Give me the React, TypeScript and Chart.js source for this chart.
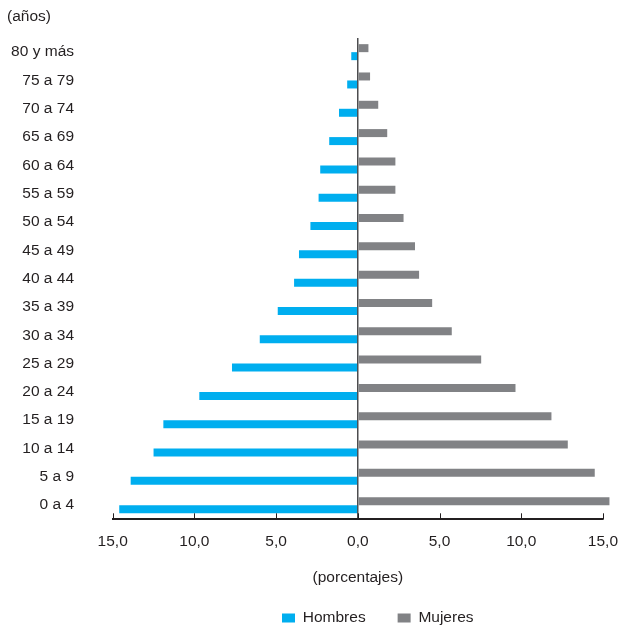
import React, { useEffect, useRef } from 'react';
import { Chart, registerables } from 'chart.js';

Chart.register(...registerables);

// Age groups, top to bottom
const ageGroups = [
  '80 y más', '75 a 79', '70 a 74', '65 a 69', '60 a 64', '55 a 59',
  '50 a 54', '45 a 49', '40 a 44', '35 a 39', '30 a 34', '25 a 29',
  '20 a 24', '15 a 19', '10 a 14', '5 a 9', '0 a 4',
];

// Percent of population by sex
const hombres = [0.4, 0.65, 1.15, 1.75, 2.3, 2.4, 2.9, 3.6, 3.9, 4.9, 6.0, 7.7, 9.7, 11.9, 12.5, 13.9, 14.6];
const mujeres = [0.65, 0.75, 1.25, 1.8, 2.3, 2.3, 2.8, 3.5, 3.75, 4.55, 5.75, 7.55, 9.65, 11.85, 12.85, 14.5, 15.4];

const xMin = -15;
const xMax = 15;
const xStep = 5;

const FONT = "'Liberation Sans', Arial, Helvetica, sans-serif";
const TEXT = '#231f20';
const BLUE = '#00aeef';
const GREY = '#818285';
const FS = 15.5;

export default function App() {
  const ref = useRef<HTMLCanvasElement>(null);

  useEffect(() => {
    if (!ref.current) return;

    const insideTicks = {
      id: 'insideTicks',
      afterDatasetsDraw(chart: any) {
        const xs = chart.scales.x;
        const ctx = chart.ctx;
        const b = chart.chartArea.bottom;
        ctx.save();
        ctx.strokeStyle = TEXT;
        ctx.lineWidth = 1;
        xs.ticks.forEach((_t: any, i: number) => {
          const px = Math.round(xs.getPixelForTick(i)) + 0.5;
          ctx.beginPath();
          ctx.moveTo(px, b - 6);
          ctx.lineTo(px, b);
          ctx.stroke();
        });
        ctx.restore();
      },
    };

    const legendPlacer = {
      id: 'legendPlacer',
      beforeDraw(chart: any) {
        const lg = chart.legend;
        if (!lg) return;
        const pad = lg.options.labels.padding;
        lg.left = 282 - pad;
        lg.right = chart.width;
        lg.top = 578.25;
        lg.bottom = chart.height;
        lg.width = lg.right - lg.left;
        lg.height = lg.bottom - lg.top;
      },
    };

    const chart = new Chart(ref.current, {
      type: 'bar',
      data: {
        labels: ageGroups,
        datasets: [
          {
            label: 'Mujeres',
            data: mujeres,
            backgroundColor: GREY,
            borderWidth: 0,
            clip: false as any,
            categoryPercentage: 0.565,
            barPercentage: 1,
          },
          {
            label: 'Hombres',
            data: hombres.map((v) => -v),
            backgroundColor: BLUE,
            borderWidth: 0,
            clip: false as any,
            categoryPercentage: 0.565,
            barPercentage: 1,
          },
        ],
      },
      options: {
        indexAxis: 'y',
        animation: false,
        responsive: true,
        maintainAspectRatio: false,
        layout: { padding: { left: 7, right: 0, top: 0, bottom: 0 } },
        scales: {
          x: {
            type: 'linear',
            min: xMin,
            max: xMax,
            ticks: {
              stepSize: xStep,
              padding: 0,
              color: TEXT,
              font: { family: FONT, size: FS },
              maxRotation: 0,
              autoSkip: false,
              callback: (v: any) => Math.abs(Number(v)).toFixed(1).replace('.', ','),
            },
            grid: {
              display: true,
              drawOnChartArea: true,
              drawTicks: true,
              tickLength: 13,
              tickColor: 'rgba(0,0,0,0)',
              color: (c: any) => (c.tick && c.tick.value === 0 ? '#4d4d4f' : 'rgba(0,0,0,0)'),
              lineWidth: 1.5,
            },
            border: { display: true, color: TEXT, width: 2 },
            title: {
              display: true,
              text: '(porcentajes)',
              color: TEXT,
              font: { family: FONT, size: FS },
              padding: { top: 17.8, bottom: 0 },
            },
          },
          y: {
            type: 'category',
            ticks: {
              color: TEXT,
              font: { family: FONT, size: FS },
              padding: 8.7,
              autoSkip: false,
            },
            grid: {
              display: true,
              drawOnChartArea: false,
              drawTicks: true,
              tickLength: 30,
              tickColor: 'rgba(0,0,0,0)',
              color: 'rgba(0,0,0,0)',
            },
            border: { display: false },
            afterFit: (s: any) => {
              s.width = 105.7;
            },
          },
        },
        plugins: {
          title: {
            display: true,
            text: '(años)',
            align: 'start',
            color: TEXT,
            font: { family: FONT, size: FS, weight: 'normal' },
            padding: { top: 7.7, bottom: 11.7 },
          },
          legend: {
            display: true,
            position: 'bottom',
            align: 'start',
            reverse: true,
            maxHeight: 38.7,
            labels: {
              boxWidth: 13,
              boxHeight: 9,
              padding: 32,
              color: TEXT,
              font: { family: FONT, size: FS },
            },
          },
          tooltip: { enabled: false },
        },
      } as any,
      plugins: [insideTicks, legendPlacer],
    });

    return () => chart.destroy();
  }, []);

  return (
    <div style={{ position: 'absolute', left: 0, top: 0, width: 618, height: 626, background: '#fff' }}>
      <canvas ref={ref} />
    </div>
  );
}
